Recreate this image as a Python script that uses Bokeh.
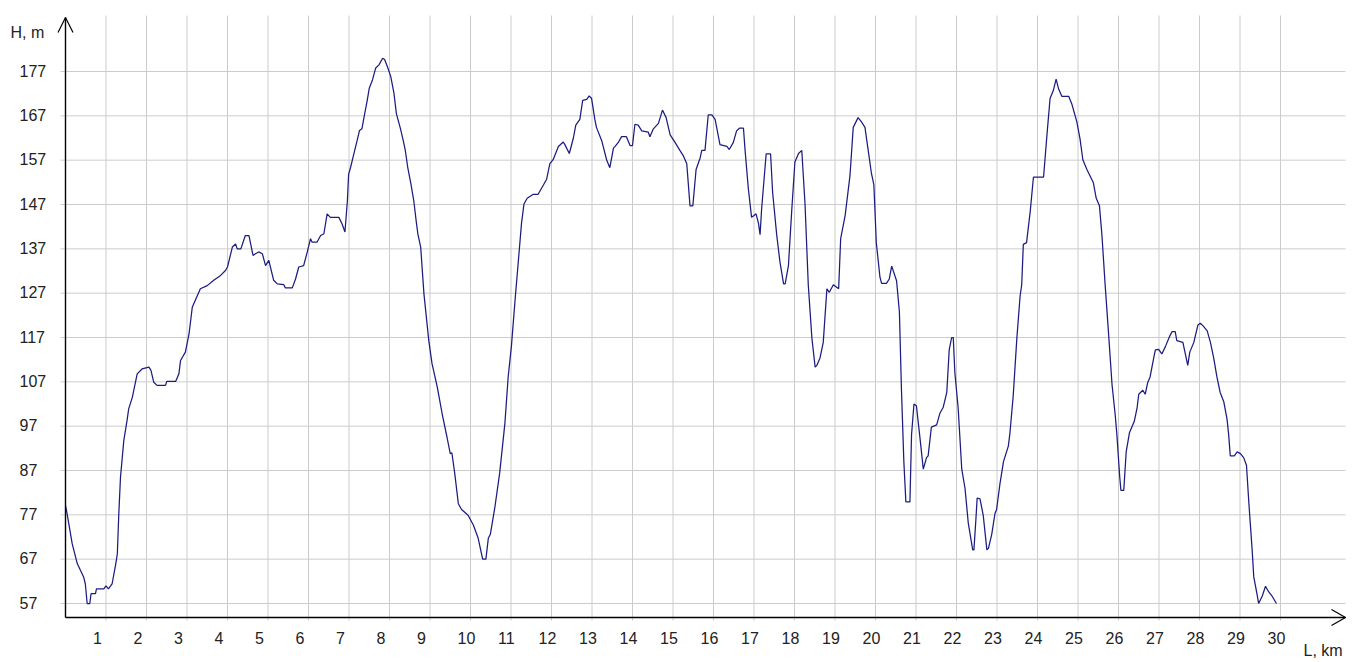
from bokeh.plotting import figure
from bokeh.models import Range1d
from bokeh.core.properties import value
from bokeh.embed import file_html
from bokeh.resources import INLINE

# ---- data (distance km, elevation m) ----
dist_km = [0.0, 0.04, 0.165, 0.29, 0.45, 0.49, 0.535, 0.6, 0.63, 0.74, 0.765, 0.946, 1.0, 1.06, 1.15,
           1.235, 1.28, 1.316, 1.358, 1.44, 1.52, 1.56, 1.65, 1.77, 1.89, 2.06, 2.11, 2.18, 2.26, 2.47,
           2.5, 2.72, 2.8, 2.84, 2.96, 3.05, 3.13, 3.33, 3.5, 3.66, 3.83, 3.95, 4.0, 4.12, 4.2, 4.24,
           4.33, 4.44, 4.53, 4.63, 4.69, 4.77, 4.86, 4.94, 5.02, 5.14, 5.23, 5.39, 5.43, 5.6, 5.68,
           5.76, 5.88, 5.97, 6.05, 6.09, 6.21, 6.3, 6.38, 6.46, 6.54, 6.75, 6.83, 6.9, 6.96, 6.99,
           7.04, 7.12, 7.2, 7.26, 7.32, 7.38, 7.45, 7.5, 7.58, 7.66, 7.74, 7.83, 7.88, 7.96, 8.03,
           8.11, 8.17, 8.27, 8.34, 8.39, 8.45, 8.53, 8.6, 8.66, 8.7, 8.77, 8.85, 8.97, 9.05, 9.18,
           9.3, 9.42, 9.5, 9.54, 9.61, 9.7, 9.78, 9.94, 10.07, 10.19, 10.3, 10.38, 10.44, 10.49, 10.6,
           10.72, 10.85, 10.93, 11.01, 11.1, 11.18, 11.26, 11.32, 11.4, 11.55, 11.67, 11.8, 11.88,
           11.96, 12.04, 12.17, 12.29, 12.33, 12.44, 12.54, 12.6, 12.7, 12.77, 12.87, 12.93, 12.99,
           13.07, 13.11, 13.24, 13.36, 13.44, 13.53, 13.57, 13.65, 13.73, 13.85, 13.94, 14.0, 14.06,
           14.14, 14.23, 14.39, 14.43, 14.51, 14.64, 14.74, 14.83, 14.93, 15.05, 15.17, 15.26, 15.34,
           15.42, 15.49, 15.57, 15.67, 15.71, 15.79, 15.87, 15.96, 16.04, 16.16, 16.33, 16.39, 16.49,
           16.57, 16.64, 16.74, 16.78, 16.86, 16.94, 17.0, 17.05, 17.11, 17.15, 17.19, 17.3, 17.41,
           17.46, 17.56, 17.64, 17.73, 17.77, 17.85, 17.93, 18.01, 18.1, 18.18, 18.26, 18.34, 18.43,
           18.51, 18.55, 18.63, 18.71, 18.8, 18.86, 18.96, 19.09, 19.14, 19.25, 19.37, 19.45, 19.57,
           19.65, 19.74, 19.82, 19.9, 19.96, 20.02, 20.11, 20.15, 20.27, 20.34, 20.4, 20.52, 20.59,
           20.64, 20.7, 20.75, 20.85, 20.89, 20.95, 21.01, 21.1, 21.18, 21.26, 21.3, 21.38, 21.51,
           21.59, 21.67, 21.76, 21.82, 21.88, 21.92, 21.96, 22.04, 22.13, 22.21, 22.29, 22.4, 22.43,
           22.48, 22.51, 22.58, 22.66, 22.75, 22.79, 22.87, 22.95, 22.99, 23.07, 23.16, 23.28, 23.32,
           23.4, 23.49, 23.57, 23.61, 23.65, 23.73, 23.82, 23.9, 24.15, 24.23, 24.31, 24.39, 24.46,
           24.52, 24.6, 24.77, 24.85, 24.97, 25.05, 25.12, 25.22, 25.38, 25.45, 25.53, 25.59, 25.67,
           25.75, 25.84, 25.92, 25.96, 26.03, 26.06, 26.13, 26.19, 26.27, 26.33, 26.39, 26.46, 26.5,
           26.6, 26.66, 26.72, 26.78, 26.87, 26.91, 26.99, 27.07, 27.16, 27.26, 27.32, 27.4, 27.44,
           27.59, 27.65, 27.71, 27.76, 27.86, 27.96, 28.02, 28.1, 28.19, 28.27, 28.35, 28.43, 28.51,
           28.6, 28.68, 28.72, 28.76, 28.86, 28.93, 29.01, 29.09, 29.16, 29.22, 29.3, 29.34, 29.42,
           29.46, 29.55, 29.63, 29.71, 29.79, 29.9]

elev_m = [79.1, 77.2, 70.5, 66.0, 62.9, 61.4, 57.0, 57.0, 59.2, 59.2, 60.3, 60.3, 61.0, 60.3, 61.4,
          65.6, 68.2, 77.2, 85.5, 93.8, 98.3, 100.9, 103.5, 108.8, 109.9, 110.3, 109.6, 106.9, 106.2, 106.2,
          107.1, 107.1, 108.8, 111.8, 113.7, 117.8, 123.8, 128.0, 128.7, 129.9, 131.0, 132.1, 132.9, 137.4, 138.1, 137.0,
          137.0, 140.0, 140.0, 135.5, 135.9, 136.3, 135.9, 133.2, 134.4, 129.9, 129.1, 128.9, 128.2, 128.2, 130.2,
          132.9, 133.2, 136.3, 139.3, 138.5, 138.5, 140.0, 140.4, 144.9, 144.1, 144.1, 142.6, 140.8, 147.8, 153.8,
          155.4, 158.4, 161.4, 163.7, 164.1, 167.1, 170.5, 173.2, 175.1, 177.8, 178.5, 180.0, 179.7, 177.8, 175.9,
          172.1, 167.5, 164.1, 161.4, 159.2, 155.4, 151.6, 147.8, 143.2, 140.4, 137.4, 126.9, 116.3, 111.1, 105.8,
          99.8, 94.5, 90.8, 91.0, 86.4, 79.5, 78.2, 76.9, 74.7, 71.7, 67.0, 67.0, 71.7, 72.6, 78.6,
          86.4, 97.7, 108.1, 115.0, 125.4, 134.1, 142.8, 147.1, 148.4, 149.3, 149.3, 151.4, 152.7,
          156.2, 157.1, 160.1, 161.1, 160.5, 158.5, 162.0, 164.9, 166.2, 170.5, 170.7, 171.5, 170.9,
          166.2, 164.4, 161.4, 157.1, 155.3, 159.7, 160.1, 161.0, 162.3, 162.3, 160.3, 160.3, 165.1,
          164.9, 163.6, 163.3, 162.3, 164.0, 165.3, 168.3, 166.6, 162.7, 161.0, 159.2, 157.9, 156.2,
          146.7, 146.7, 154.9, 157.5, 159.2, 159.2, 167.2, 167.2, 166.2, 160.5, 160.1, 159.4, 161.0,
          163.6, 164.2, 164.2, 159.2, 150.6, 144.1, 144.5, 144.9, 142.8, 140.2, 146.2, 158.4, 158.4,
          149.7, 140.2, 134.1, 129.1, 129.1, 133.2, 145.4, 156.6, 158.5, 159.2, 147.1, 128.9, 116.8,
          110.3, 110.7, 112.4, 115.9, 128.0, 127.2, 128.9, 128.0, 139.3, 144.5, 153.5, 164.4, 166.6,
          165.7, 164.4, 159.2, 154.0, 151.4, 138.4, 130.6, 129.2, 129.2, 130.2, 133.1, 129.8, 122.8,
          105.5, 89.0, 79.9, 79.9, 95.1, 102.0, 101.6, 94.2, 87.3, 89.9, 90.3, 96.8, 97.3,
          99.9, 101.2, 104.6, 114.2, 117.0, 117.0, 109.0, 101.2, 87.3, 83.0, 75.2, 69.1, 69.1,
          76.1, 80.8, 80.6, 76.9, 69.1, 69.5, 72.6, 77.3, 78.2, 83.8, 89.0, 92.5, 95.5,
          103.8, 116.8, 126.3, 128.9, 138.0, 138.4, 145.4, 153.2, 153.2, 162.3, 170.9, 172.7, 175.3,
          173.1, 171.4, 171.4, 169.6, 165.7, 161.8, 157.1, 154.9, 151.9, 148.4, 146.7, 140.2, 128.9,
          118.5, 106.4, 99.4, 95.1, 85.6, 82.5, 82.5, 91.2, 95.5, 96.8, 98.1, 101.2, 104.2,
          105.1, 104.2, 106.8, 108.1, 112.4, 114.2, 114.3, 113.3, 115.0, 117.2, 118.3, 118.3, 116.3,
          115.9, 113.3, 110.7, 113.7, 115.9, 119.8, 120.2, 119.5, 118.5, 115.9, 112.4, 108.1, 104.6,
          102.5, 98.6, 95.1, 90.3, 90.3, 91.2, 90.8, 89.9, 88.2, 79.5, 69.1, 63.0, 59.1,
          57.0, 58.7, 60.9, 59.6, 58.7, 57.0]

x_ticks = list(range(1, 31))
y_ticks = [57, 67, 77, 87, 97, 107, 117, 127, 137, 147, 157, 167, 177]
x_tick_labels = [str(v) for v in x_ticks]
y_tick_labels = [str(v) for v in y_ticks]
x_title = "L, km"
y_title = "H, m"

# ---- layout: map page pixels to data (figure drawn at page origin) ----
W, H = 1356, 660
PX_KM = 40.5          # pixels per km
PX_M = 532.0 / 120.0  # pixels per metre
X0_PAGE = 65.0        # page x of km 0
Y57_PAGE = 603.0      # page y of 57 m
ORIGIN = 0


def kx(px):
    return (px - X0_PAGE) / PX_KM


def hy(py):
    return 57.0 - (py - Y57_PAGE) / PX_M


p = figure(width=W, height=H, output_backend="svg", toolbar_location=None,
           x_range=Range1d(kx(ORIGIN), kx(ORIGIN + W)), y_range=Range1d(hy(ORIGIN + H), hy(ORIGIN)),
           min_border=0, min_border_left=0, min_border_right=0, min_border_top=0, min_border_bottom=0)
p.xaxis.visible = False
p.yaxis.visible = False
p.grid.visible = False
p.outline_line_color = None
p.background_fill_color = "white"
p.border_fill_color = "white"

grid_col = "#cccccc"
# vertical grid lines
p.segment(x0=x_ticks, x1=x_ticks, y0=[hy(620)] * len(x_ticks), y1=[hy(15)] * len(x_ticks),
          line_color=grid_col, line_width=1)
# horizontal grid lines
p.segment(x0=[kx(60)] * len(y_ticks), x1=[kx(1345)] * len(y_ticks), y0=y_ticks, y1=y_ticks,
          line_color=grid_col, line_width=1)

# profile
p.line(dist_km, elev_m, line_color="#1c1c80", line_width=1.25)

# axes with arrows
ax_col = "#000000"
y_axis_h = hy(617)
p.line([0, kx(1345)], [y_axis_h, y_axis_h], line_color=ax_col, line_width=1.4)
p.line([0, 0], [y_axis_h, hy(17)], line_color=ax_col, line_width=1.4)
p.line([kx(1331), kx(1345), kx(1331)], [hy(609), hy(617), hy(625)], line_color=ax_col, line_width=1.2)
p.line([kx(57.5), kx(65), kx(72.5)], [hy(32), hy(17), hy(32)], line_color=ax_col, line_width=1.2)

font = value("Liberation Sans")
txt_col = "#222222"
p.text(x=x_ticks, y=[y_axis_h] * len(x_ticks), text=x_tick_labels, x_offset=-13, y_offset=20,
       text_align="left", text_baseline="alphabetic", text_font=font, text_font_size="16px",
       text_color=txt_col)
p.text(x=[kx(19)] * len(y_ticks), y=y_ticks, text=y_tick_labels, y_offset=-1,
       text_align="left", text_baseline="alphabetic", text_font=font, text_font_size="16px",
       text_color=txt_col)
p.text(x=[kx(10)], y=[hy(32)], text=[y_title], text_align="left", text_baseline="alphabetic",
       text_font=font, text_font_size="16px", text_color=txt_col)
p.text(x=[kx(1303)], y=[hy(650)], text=[x_title], text_align="left", text_baseline="alphabetic",
       text_font=font, text_font_size="16px", text_color=txt_col)

open("out.html", "w").write(file_html(p, INLINE))
